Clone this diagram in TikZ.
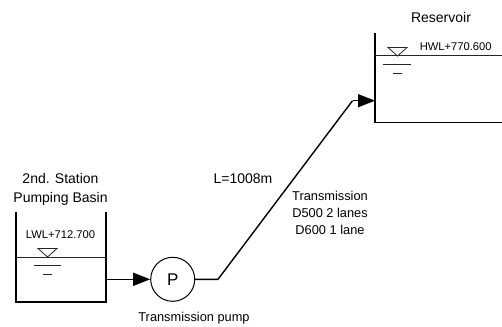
\documentclass[tikz,border=0pt]{standalone}
\usepackage{fontspec}
\setmainfont{Liberation Sans}
\usetikzlibrary{arrows.meta}

\begin{document}
\begin{tikzpicture}[x=1pt, y=-1pt, >={Triangle[length=17pt, width=13pt]},
    label/.style={inner sep=0pt, align=center, font=\fontsize{14}{19}\selectfont},
    midlabel/.style={inner sep=0pt, align=center, font=\fontsize{12.8}{17}\selectfont},
    level/.style={inner sep=0pt, font=\fontsize{11.2}{13}\selectfont},
    wall/.style={line width=1.5pt},
    pipe/.style={line width=1.4pt},
    water/.style={line width=0.8pt, draw=black!85},
    pump/.style={draw, circle, line width=1pt, minimum size=44pt, inner sep=0pt,
                 font=\fontsize{17}{17}\selectfont}]
  \useasboundingbox (0, 0) rectangle (502, 326);

  % basin
  \coordinate (b1) at (16, 212);
  \coordinate (b2) at (16, 302);
  \coordinate (b3) at (106, 302);
  \coordinate (b4) at (106, 212);
  \coordinate (bw1) at (16, 257);
  \coordinate (bw2) at (106, 257);
  \draw[wall] (b1) -- (b2) -- (b3) -- (b4);
  \draw[water] (bw1) -- (bw2);
  \draw[water] (38, 248.5) -- (57, 248.5) -- (47.5, 257) -- cycle;
  \draw[water] (34, 265.7) -- (61, 265.7);
  \draw[water] (43, 274.5) -- (52, 274.5);

  % reservoir
  \coordinate (r1) at (375, 33);
  \coordinate (r2) at (375, 122.5);
  \coordinate (r3) at (502, 122.5);
  \coordinate (rw1) at (375, 55.7);
  \coordinate (rw2) at (502, 55.7);
  \draw[wall] (r1) -- (r2) -- (r3);
  \draw[water] (rw1) -- (rw2);
  \draw[water] (388, 47.5) -- (407, 47.5) -- (397.5, 56) -- cycle;
  \draw[water] (383, 64.7) -- (411, 64.7);
  \draw[water] (393, 73) -- (402, 73);

  % pump and pipes
  \node[pump] (p) at (172.7, 279.3) {P};
  \coordinate (in) at (106, 279.3);
  \coordinate (k1) at (218, 279.3);
  \coordinate (k2) at (352.5, 100.7);
  \coordinate (out) at (375, 100.7);
  \draw[pipe, ->] (in) -- (p);
  \draw[pipe] (p) -- (k1) -- (k2);
  \draw[pipe, ->] (k2) -- (out);

  % labels
  \node[label] (resname) at (441, 17) {Reservoir};
  \node[level] (hwl) at (455.7, 47) {HWL+770.600};
  \node[label] (basinname) at (60.5, 189.5) {2nd. Station\\Pumping Basin};
  \node[level] (lwl) at (60.5, 235) {LWL+712.700};
  \node[label] (len) at (243, 179) {L=1008m};
  \node[midlabel] (trans) at (330, 213) {Transmission\\D500 2 lanes\\D600 1 lane};
  \node[midlabel] (pumpname) at (194, 318) {Transmission pump};
\end{tikzpicture}
\end{document}
